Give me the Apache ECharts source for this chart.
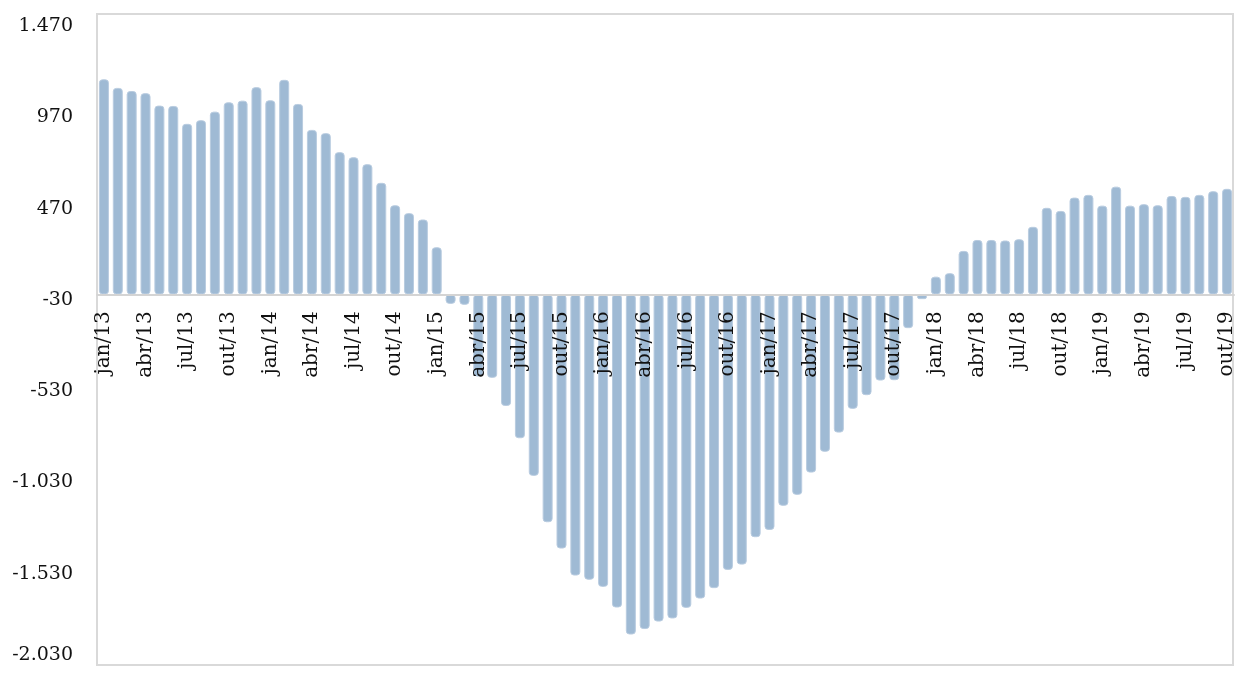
<!DOCTYPE html>
<html>
<head>
<meta charset="utf-8">
<script src="https://cdn.jsdelivr.net/npm/echarts@6/dist/echarts.min.js"></script>
<style>
  html, body { margin: 0; padding: 0; background: #fff; }
  #chart { width: 1239px; height: 674px; }
</style>
</head>
<body>
<div id="chart"></div>
<script>
// meses de jan/13 a out/19
const monthNames = ['jan', 'fev', 'mar', 'abr', 'mai', 'jun', 'jul', 'ago', 'set', 'out', 'nov', 'dez'];
const years = ['13', '14', '15', '16', '17', '18', '19'];

const values2013 = [1178, 1131, 1114, 1102, 1034, 1032, 934, 954, 1001, 1052, 1061, 1135];
const values2014 = [1063, 1175, 1043, 901, 883, 779, 751, 713, 611, 488, 445, 410];
const values2015 = [258, -52, -57, -450, -457, -611, -788, -994, -1248, -1392, -1540, -1563];
const values2016 = [-1602, -1715, -1863, -1833, -1792, -1775, -1717, -1666, -1609, -1509, -1480, -1330];
const values2017 = [-1290, -1158, -1098, -976, -862, -757, -627, -552, -472, -470, -185, -26];
const values2018 = [97, 116, 238, 298, 298, 295, 302, 370, 474, 457, 530, 545];
const values2019 = [486, 590, 486, 494, 488, 539, 534, 545, 565, 578];

// eixo y
const yMin = -2030;
const yMax = 1470;
const yStep = 500;

const values = [].concat(values2013, values2014, values2015, values2016, values2017, values2018, values2019);
const categories = [];
years.forEach(function (y) {
  monthNames.forEach(function (m) {
    if (categories.length < values.length) categories.push(m + '/' + y);
  });
});

function fmt(v) {
  const s = String(Math.abs(v)).replace(/\B(?=(\d{3})+(?!\d))/g, '.');
  return (v < 0 ? '-' : '') + s;
}

const gridTop = 26;
const gridBottom = 9;
const chartH = 674;
// eixo x passa pelo zero
const plotH = chartH - gridTop - gridBottom;
const zeroOffset = -plotH * (0 - yMin) / (yMax - yMin);

const myChart = echarts.init(document.getElementById('chart'));
const option = {
  animation: false,
  textStyle: { fontFamily: 'DejaVu Serif' },
  grid: { left: 97, right: 5, top: gridTop, bottom: gridBottom, containLabel: false, outerBoundsMode: 'none' },
  graphic: [{
    type: 'rect',
    z: 0,
    silent: true,
    shape: { x: 97, y: 14, width: 1136, height: 651 },
    style: { fill: 'none', stroke: '#d9d9d9', lineWidth: 2 }
  }],
  xAxis: {
    type: 'category',
    data: categories,
    position: 'bottom',
    offset: zeroOffset,
    z: 5,
    axisLine: { onZero: false, lineStyle: { color: '#d4d4d4', width: 2 } },
    axisTick: { show: false },
    axisLabel: {
      interval: 2,
      rotate: 90,
      margin: 17,
      color: '#111',
      fontSize: 20,
      fontFamily: 'DejaVu Serif'
    }
  },
  yAxis: {
    type: 'value',
    min: yMin,
    max: yMax,
    interval: yStep,
    axisLine: { show: false },
    axisTick: { show: false },
    splitLine: { show: false },
    axisLabel: {
      margin: 24,
      color: '#111',
      fontSize: 19,
      fontFamily: 'DejaVu Serif',
      verticalAlignMinLabel: 'bottom',
      formatter: fmt
    }
  },
  series: [{
    type: 'bar',
    data: values,
    barWidth: 10,
    itemStyle: {
      color: '#9fbad4',
      borderColor: '#b9cce0',
      borderWidth: 1,
      borderRadius: 3
    }
  }]
};
myChart.setOption(option, true);
window.addEventListener('resize', () => {
  myChart.resize();
});
</script>
</body>
</html>
